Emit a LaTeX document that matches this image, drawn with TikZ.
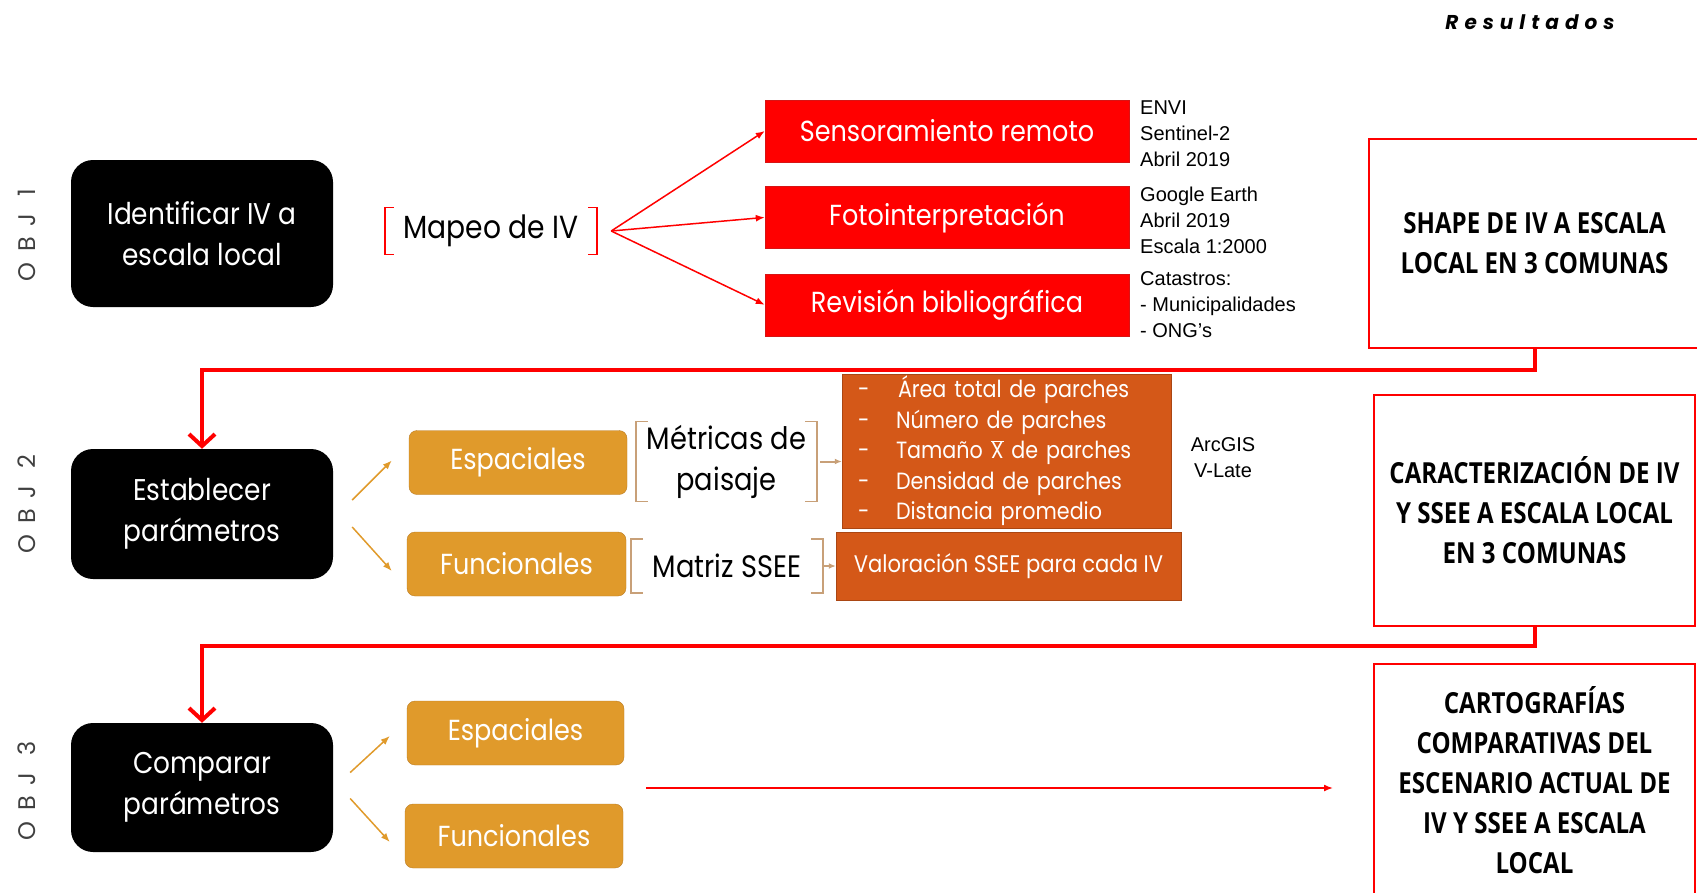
\documentclass[tikz,border=0pt]{standalone}
\usepackage{fontspec}
\setmainfont{Liberation Sans}
\newfontfamily\gothfont[FakeStretch=0.88]{Poppins}
\newfontfamily\objfont[LetterSpace=45]{Poppins}
\newfontfamily\titlefont[LetterSpace=30]{Poppins}
\newfontfamily\resfont[FakeStretch=0.83]{Open Sans}
\usetikzlibrary{positioning,arrows.meta}

\definecolor{rojo}{RGB}{255,0,0}
\definecolor{rojoborde}{RGB}{215,20,20}
\definecolor{ocre}{RGB}{224,154,43}
\definecolor{ocreborde}{RGB}{186,124,36}
\definecolor{naranja}{RGB}{212,88,24}
\definecolor{cafe}{RGB}{200,160,120}

\begin{document}
\begin{tikzpicture}[x=1pt, y=-1pt, font=\gothfont]

        % Setup the styles for the boxes
        \tikzset{obj box/.style={rectangle, rounded corners=22pt,
                                 fill=black, text=white,
                                 minimum width=262pt, align=center,
                                 font=\gothfont\fontsize{30}{41}\selectfont},
                 red box/.style={rectangle, fill=rojo, draw=rojoborde,
                                 text=white,
                                 minimum width=364pt, minimum height=62pt,
                                 font=\gothfont\fontsize{29}{34}\selectfont},
                 ocre box/.style={rectangle, rounded corners=8pt,
                                  fill=ocre, draw=ocreborde, text=white,
                                  minimum height=64pt,
                                  font=\gothfont\fontsize{29}{34}\selectfont},
                 orange box/.style={rectangle, fill=naranja,
                                    draw=naranja!80!black, text=white,
                                    font=\gothfont\fontsize{23.5}{30.5}\selectfont},
                 result box/.style={rectangle, draw=rojo, line width=2pt,
                                    align=center,
                                    font=\resfont\bfseries\fontsize{29}{40}\selectfont},
                 bracket node/.style={rectangle, align=center,
                                      font=\gothfont\fontsize{31}{41}\selectfont},
                 note/.style={align=left, inner sep=0pt,
                              font=\fontsize{20}{26}\selectfont},
                 obj label/.style={rotate=90, text=black!75,
                                   font=\objfont\fontsize{24}{26}\selectfont},
                 thin arrow/.style={-{Latex[length=9pt,width=7pt]}},
                 big arrow/.style={-{Straight Barb[length=12pt,width=26pt]}}}

        \useasboundingbox (0,0) rectangle (1697,892);

        % Title of the results column
        \node[font=\titlefont\bfseries\itshape\fontsize{20}{24}\selectfont]
            (resul) at (1530,22) {Resultados};

        % Objective labels and boxes
        \node[obj label] (obj1) at (27,235) {OBJ~1};
        \node[obj label] (obj2) at (27,504) {OBJ~2};
        \node[obj label] (obj3) at (27,791) {OBJ~3};

        \node[obj box, minimum height=147pt] at (202,233.5) (ident) {Identificar IV a\\escala local};
        \node[obj box, minimum height=130pt] at (202,514)   (estab) {Establecer\\parámetros};
        \node[obj box, minimum height=129pt] at (202,787.5) (compa) {Comparar\\parámetros};

        % Objective 1
        \node[bracket node, minimum width=212pt, minimum height=47pt,
              font=\gothfont\fontsize{32}{41}\selectfont]
            at (491,231) (mapeo) {Mapeo de IV};
        \draw[rojo, line width=1.5pt]
            ([xshift=9pt]mapeo.north west) -| (mapeo.south west) -- ++(9,0)
            ([xshift=-9pt]mapeo.north east) -| (mapeo.south east) -- ++(-9,0);

        \node[red box] at (947,131) (sens) {Sensoramiento remoto};
        \node[red box, below=24pt of sens] (foto) {Fotointerpretación};
        \node[red box, below=25pt of foto] (revi) {Revisión bibliográfica};

        \node[note, anchor=west] at (1140,134) (nsens) {ENVI\\Sentinel-2\\Abril 2019};
        \node[note, anchor=west] at (1140,220) (nfoto) {Google Earth\\Abril 2019\\Escala 1:2000};
        \node[note, anchor=west] at (1140,305) (nrevi) {Catastros:\\- Municipalidades\\- ONG’s};

        % Objective 2
        \node[ocre box, minimum width=218pt] at (518,462.5) (esp2) {Espaciales};
        \node[ocre box, minimum width=219pt] at (516.5,564) (fun2) {Funcionales};

        \node[bracket node, minimum width=181pt, minimum height=79pt]
            at (726.5,461.5) (metri) {Métricas de\\paisaje};
        \node[bracket node, minimum width=192pt, minimum height=54pt]
            at (727,566) (matriz) {Matriz SSEE};
        \draw[cafe, line width=1.5pt]
            ([xshift=12pt]metri.north west) -| (metri.south west) -- ++(12,0)
            ([xshift=-12pt]metri.north east) -| (metri.south east) -- ++(-12,0)
            ([xshift=12pt]matriz.north west) -| (matriz.south west) -- ++(12,0)
            ([xshift=-12pt]matriz.north east) -| (matriz.south east) -- ++(-12,0);

        \node[orange box, inner xsep=16pt, inner ysep=2pt, text width=297pt,
              align=left, minimum height=148pt] at (1006.5,451) (lista)
            {\makebox[40pt][l]{-}Área total de parches\\
             \makebox[38pt][l]{-}Número de parches\\
             \makebox[38pt][l]{-}Tamaño \ensuremath{\overline{\mbox{X}}} de parches\\
             \makebox[38pt][l]{-}Densidad de parches\\
             \makebox[38pt][l]{-}Distancia promedio};
        \node[orange box, minimum width=345pt, minimum height=68pt,
              font=\gothfont\fontsize{24}{30}\selectfont]
            at (1008.5,566) (valor) {Valoración SSEE para cada IV};
        \node[note, align=center] at (1223,458) (arcgis) {ArcGIS\\V-Late};

        % Objective 3
        \node[ocre box, minimum width=217pt] at (515.5,733) (esp3) {Espaciales};
        \node[ocre box, minimum width=218pt] at (514,836)   (fun3) {Funcionales};

        % Results
        \node[result box, minimum width=331pt, minimum height=209pt]
            at (1534.5,243.5) (res1) {SHAPE DE IV A ESCALA\\LOCAL EN 3 COMUNAS};
        \node[result box, minimum width=321pt, minimum height=231pt]
            at (1534.5,510.5) (res2) {CARACTERIZACIÓN DE IV\\Y SSEE A ESCALA LOCAL\\EN 3 COMUNAS};
        \node[result box, minimum width=321pt, minimum height=232pt]
            at (1534.5,780) (res3) {CARTOGRAFÍAS\\COMPARATIVAS DEL\\ESCENARIO ACTUAL DE\\IV Y SSEE A ESCALA\\LOCAL};

        % Connect the boxes with arrows
        \draw[rojo, line width=1.5pt]
            ([xshift=14pt]mapeo.east) edge[thin arrow] (sens.west)
            ([xshift=14pt]mapeo.east) edge[thin arrow] (foto.west)
            ([xshift=14pt]mapeo.east) edge[thin arrow] (revi.west);

        \draw[ocre, line width=1.5pt]
            ([xshift=19pt,yshift=14pt]estab.east)  edge[thin arrow] ([xshift=-17pt,yshift=2pt]esp2.west)
            ([xshift=19pt,yshift=-13pt]estab.east) edge[thin arrow] ([xshift=-15pt,yshift=-7pt]fun2.west)
            ([xshift=17pt,yshift=15pt]compa.east)  edge[thin arrow] ([xshift=-17pt,yshift=-3pt]esp3.west)
            ([xshift=17pt,yshift=-11pt]compa.east) edge[thin arrow] ([xshift=-15pt,yshift=-6pt]fun3.west);

        \draw[cafe, line width=2pt]
            ([xshift=3pt]metri.east) edge[-{Latex[length=7pt,width=6pt]}] (metri.east -| lista.west)
            (matriz.east) edge[-{Latex[length=7pt,width=6pt]}] (valor.west);

        \draw[rojo, line width=4pt, big arrow]
            (res1.south) -- ++(0,21) -| (estab.north);
        \draw[rojo, line width=4pt, big arrow]
            (res2.south) -- ++(0,19) -| (compa.north);

        \coordinate (ini) at (646,788);
        \coordinate (fin) at (1333,788);
        \draw[rojo, line width=1.5pt, thin arrow] (ini) -- (fin);
\end{tikzpicture}
\end{document}
